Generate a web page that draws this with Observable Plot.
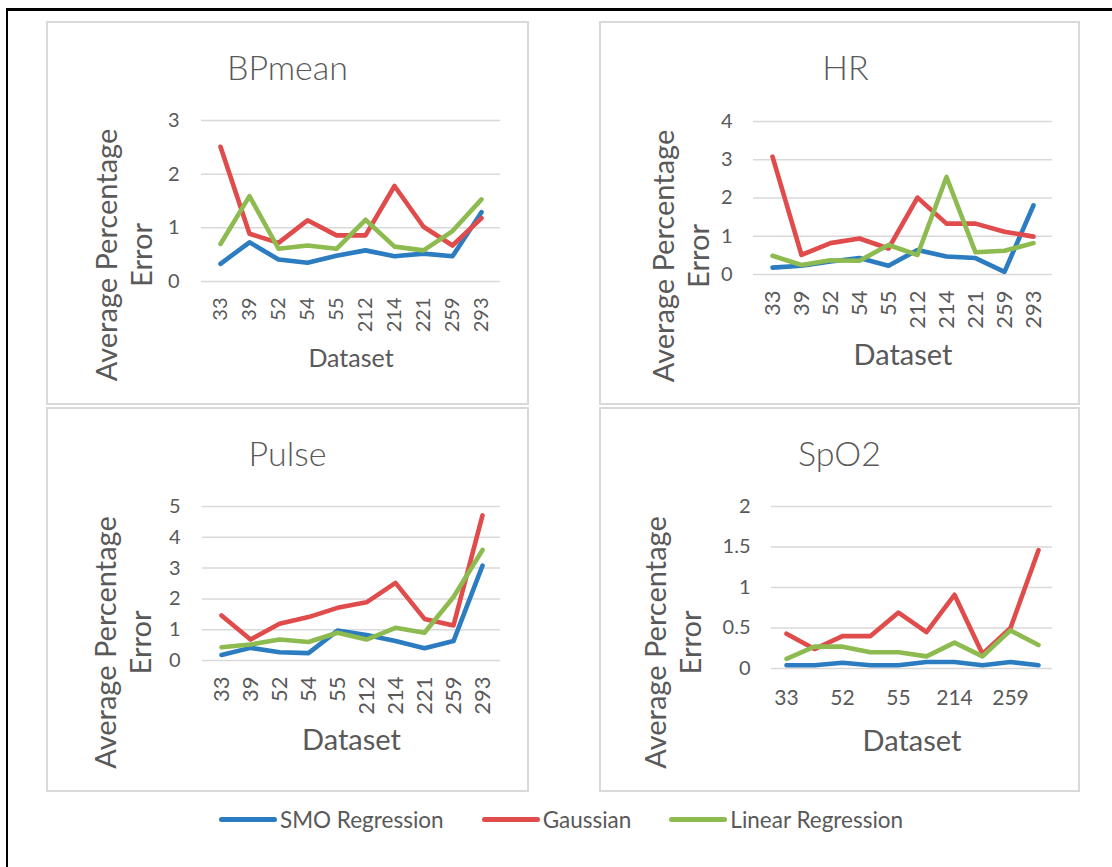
<!DOCTYPE html>
<html>
<head>
<meta charset="utf-8">
<script src="https://cdn.jsdelivr.net/npm/d3@7"></script>
<script src="https://cdn.jsdelivr.net/npm/@observablehq/plot@0.6"></script>
<style>
  html, body { margin: 0; padding: 0; background: #fff; overflow: hidden; }
  #page { position: relative; width: 1112px; height: 867px; overflow: hidden; font-family: Lato, "Open Sans", sans-serif; color: #595959; }
  #frame { position: absolute; left: 6px; top: 8px; width: 1300px; height: 1000px; border-left: 2px solid #000; border-top: 3px solid #000; box-sizing: border-box; }
  .panel { position: absolute; background: #fff; box-shadow: inset 0 0 0 2px #d9d9d9; }
  .panel svg { position: absolute; left: 0; top: 0; }
  .ptitle { position: absolute; left: 0; right: 0; text-align: center; font-size: 34px; font-weight: 300; color: #595959; line-height: 1; }
  #legend { position: absolute; top: 806px; left: 219px; display: flex; align-items: center; font-size: 22.5px; color: #595959; white-space: nowrap; }
  .lg { display: flex; align-items: center; margin-right: 38px; }
  .sw { width: 58px; height: 5px; border-radius: 3px; margin-right: 3px; }
</style>
</head>
<body>
<div id="page">
  <div id="frame"></div>
</div>
<script>
// ---- Data ----
const datasets = ["33", "39", "52", "54", "55", "212", "214", "221", "259", "293"];
const seriesNames = ["SMO Regression", "Gaussian", "Linear Regression"];
const seriesColors = ["#2b7cc0", "#e04b4b", "#8dbb4f"];

const bpSMO    = [0.33, 0.73, 0.41, 0.35, 0.48, 0.58, 0.47, 0.52, 0.47, 1.29];
const bpGauss  = [2.51, 0.89, 0.72, 1.14, 0.86, 0.86, 1.78, 1.02, 0.67, 1.18];
const bpLinear = [0.70, 1.59, 0.61, 0.67, 0.61, 1.15, 0.65, 0.58, 0.94, 1.53];

const hrSMO    = [0.18, 0.23, 0.34, 0.43, 0.23, 0.64, 0.47, 0.43, 0.07, 1.81];
const hrGauss  = [3.08, 0.51, 0.82, 0.94, 0.68, 2.01, 1.33, 1.33, 1.12, 0.99];
const hrLinear = [0.49, 0.25, 0.37, 0.36, 0.77, 0.51, 2.55, 0.58, 0.62, 0.82];

const pulseSMO    = [0.18, 0.41, 0.27, 0.24, 0.97, 0.83, 0.63, 0.40, 0.63, 3.08];
const pulseGauss  = [1.46, 0.68, 1.19, 1.41, 1.71, 1.89, 2.52, 1.35, 1.14, 4.71];
const pulseLinear = [0.43, 0.52, 0.68, 0.60, 0.90, 0.68, 1.06, 0.90, 2.06, 3.59];

const spoSMO    = [0.04, 0.04, 0.07, 0.04, 0.04, 0.08, 0.08, 0.04, 0.08, 0.04];
const spoGauss  = [0.43, 0.24, 0.40, 0.40, 0.69, 0.45, 0.91, 0.18, 0.50, 1.46];
const spoLinear = [0.12, 0.27, 0.27, 0.20, 0.20, 0.15, 0.32, 0.15, 0.47, 0.29];

const bpTicks = [0, 1, 2, 3];
const hrTicks = [0, 1, 2, 3, 4];
const pulseTicks = [0, 1, 2, 3, 4, 5];
const spoTicks = [0, 0.5, 1, 1.5, 2];
const spoXTicks = ["33", "52", "55", "214", "259"];

const yTitle = "Average Percentage\nError";
const xTitle = "Dataset";

function toRows(a, b, c) {
  const rows = [];
  [a, b, c].forEach((vals, s) => vals.forEach((v, i) => rows.push({dataset: datasets[i], value: v, series: seriesNames[s]})));
  return rows;
}

const page = document.getElementById("page");

function panel(cfg) {
  const div = document.createElement("div");
  div.className = "panel";
  Object.assign(div.style, {left: cfg.left + "px", top: cfg.top + "px", width: cfg.width + "px", height: cfg.height + "px"});
  const rows = toRows(...cfg.series);
  const chart = Plot.plot({
    width: cfg.width,
    height: cfg.height,
    marginLeft: cfg.ml, marginRight: cfg.mr, marginTop: cfg.mt, marginBottom: cfg.mb,
    style: {fontFamily: "Lato, 'Open Sans', sans-serif", color: "#595959", background: "transparent", overflow: "visible"},
    x: {type: "point", domain: datasets, padding: 0.5},
    y: {domain: cfg.yDomain},
    color: {domain: seriesNames, range: seriesColors},
    marks: [
      Plot.gridY(cfg.yTicks, {stroke: "#d9d9d9", strokeOpacity: 1, strokeWidth: 1.5}),
      Plot.axisY(cfg.yTicks, {tickSize: 0, tickPadding: cfg.ytp, fontSize: cfg.ytf, label: null, tickFormat: d => String(d)}),
      Plot.axisX(cfg.xTicks || datasets, {tickSize: 0, tickPadding: cfg.xtp, fontSize: cfg.xtf, tickRotate: cfg.xRotate, label: null}),
      Plot.line(rows, {x: "dataset", y: "value", z: "series", stroke: "series", strokeWidth: 4.6, strokeLinejoin: "round", strokeLinecap: "round"}),
      Plot.text([yTitle], {frameAnchor: "left", textAnchor: "middle", lineAnchor: "middle", dx: cfg.ylx, dy: cfg.yly, rotate: -90, fontSize: 29, fill: "#595959", lineHeight: 1.2}),
      Plot.text([xTitle], {frameAnchor: "bottom", lineAnchor: "middle", dy: cfg.xly, fontSize: cfg.xlf, fill: "#595959"})
    ]
  });
  div.appendChild(chart);
  const t = document.createElement("div");
  t.className = "ptitle";
  t.style.top = "29px";
  t.style.left = (cfg.titleShift || 0) + "px";
  t.textContent = cfg.title;
  div.appendChild(t);
  page.appendChild(div);
}

panel({title: "BPmean", left: 46, top: 21, width: 483, height: 384,
  ml: 155, mr: 29, mt: 99, mb: 124, yDomain: [0, 3], yTicks: bpTicks,
  ytp: 22, ytf: 20, xtp: 16, xtf: 20, xRotate: -90, ylx: -78, yly: 54, xly: 77, xlf: 25,
  series: [bpSMO, bpGauss, bpLinear]});

panel({title: "HR", titleShift: 12, left: 599, top: 21, width: 481, height: 384,
  ml: 154, mr: 28, mt: 100, mb: 131, yDomain: [0, 4], yTicks: hrTicks,
  ytp: 21, ytf: 20, xtp: 16, xtf: 22, xRotate: -90, ylx: -73, yly: 58, xly: 81, xlf: 29,
  series: [hrSMO, hrGauss, hrLinear]});

panel({title: "Pulse", left: 46, top: 407, width: 483, height: 385,
  ml: 156, mr: 29, mt: 99, mb: 132, yDomain: [0, 5], yTicks: pulseTicks,
  ytp: 22, ytf: 20, xtp: 16, xtf: 22, xRotate: -90, ylx: -80, yly: 59, xly: 80, xlf: 29,
  series: [pulseSMO, pulseGauss, pulseLinear]});

panel({title: "SpO2", left: 599, top: 407, width: 481, height: 385,
  ml: 172, mr: 28, mt: 99, mb: 124, yDomain: [0, 2], yTicks: spoTicks, xTicks: spoXTicks,
  ytp: 21, ytf: 20, xtp: 22, xtf: 21, xRotate: 0, ylx: -99, yly: 55, xly: 73, xlf: 29,
  series: [spoSMO, spoGauss, spoLinear]});

// legend
const lg = document.createElement("div");
lg.id = "legend";
seriesNames.forEach((n, i) => {
  const item = document.createElement("div");
  item.className = "lg";
  const sw = document.createElement("div");
  sw.className = "sw";
  sw.style.background = seriesColors[i];
  const tx = document.createElement("span");
  tx.textContent = n;
  item.appendChild(sw);
  item.appendChild(tx);
  lg.appendChild(item);
});
page.appendChild(lg);
</script>
</body>
</html>
